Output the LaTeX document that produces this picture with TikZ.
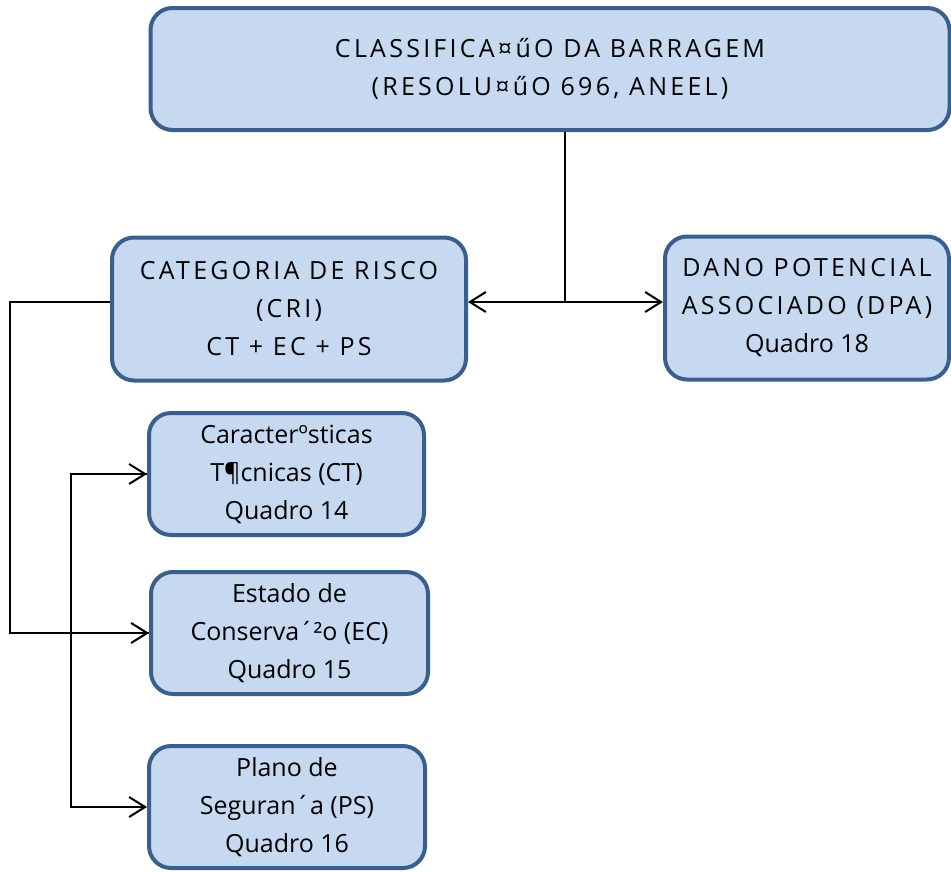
\documentclass[tikz,border=0pt]{standalone}
\usepackage{fontspec}
\setmainfont{Open Sans}
\usetikzlibrary{arrows.meta}
\definecolor{boxfill}{HTML}{C6D9F1}
\definecolor{boxline}{HTML}{3B5F8C}
\newcommand{\spread}[1]{{\addfontfeature{LetterSpace=13}#1}}

\begin{document}
\begin{tikzpicture}[
    x=1pt, y=-1pt,
    box/.style={draw=boxline, line width=4pt, rounded corners=22pt, fill=boxfill,
                align=center, inner sep=0pt, minimum height=122pt,
                font=\fontsize{25}{38}\selectfont},
    arr/.style={-{Straight Barb[length=16pt,width=20pt,line width=2pt]}, line width=2pt},
    link/.style={line width=2.6pt}
  ]
  \useasboundingbox (0,0) rectangle (951,871);

  % Nodes
  \node[box, minimum width=799pt] (cls) at (550,69)
       {\spread{CLASSIFICA¤űO DA BARRAGEM}\\\spread{(RESOLU¤űO 696, ANEEL)}};
  \node[box, minimum width=354pt, minimum height=143pt] (cri) at (289,309)
       {\spread{CATEGORIA DE RISCO}\\\spread{(CRI)}\\\spread{CT + EC + PS}};
  \node[box, minimum width=284pt, minimum height=143pt] (dpa) at (807,308)
       {\spread{DANO POTENCIAL}\\\spread{ASSOCIADO (DPA)}\\Quadro 18};
  \node[box, minimum width=275pt] (ct) at (286.5,474)
       {Caracterºsticas\\T¶cnicas (CT)\\Quadro 14};
  \node[box, minimum width=277pt] (ec) at (289.5,633)
       {Estado de\\Conserva´²o (EC)\\Quadro 15};
  \node[box, minimum width=276pt] (ps) at (287,807)
       {Plano de\\Seguran´a (PS)\\Quadro 16};
  \coordinate (junc) at (565,302);

  % Arrows
  \draw[link] (junc |- cls.south) -- (junc);
  \draw[arr] (junc) -- (cri.east |- junc);
  \draw[arr] (junc) -- (dpa.west |- junc);
  \draw[link] (cri.west |- junc) -- ++(-100,0) |- (ec.west);
  \draw[arr, line width=2.6pt] ([xshift=-2pt]ec.west) -- (ec.west);
  \draw[arr] (ct.west) -- ++(-76,0) |- (ps.west);
  \draw[arr] ([xshift=-76pt]ct.west) -- (ct.west);
\end{tikzpicture}
\end{document}
